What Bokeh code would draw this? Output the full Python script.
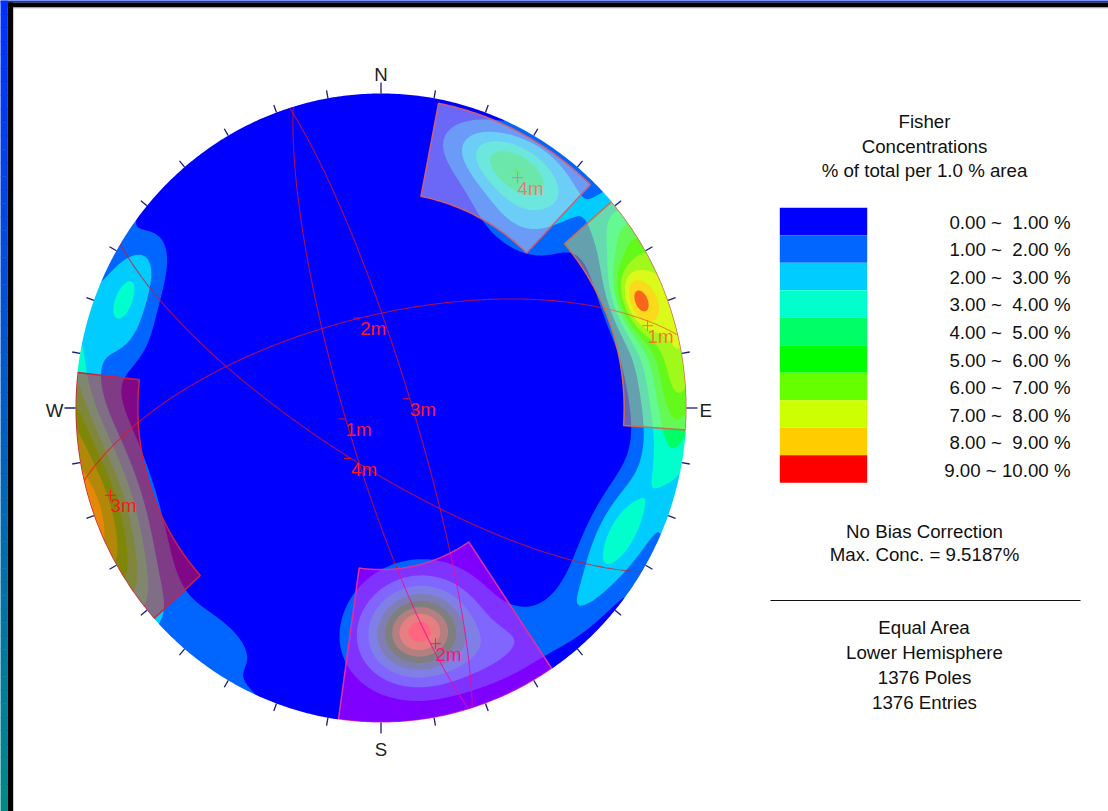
import numpy as np
from bokeh.plotting import figure
from bokeh.models import Range1d
from bokeh.core.properties import value
from bokeh.embed import file_html
from bokeh.resources import INLINE

# ---------------- data ----------------
level_edges = [0, 1, 2, 3, 4, 5, 6, 7, 8, 9, 10]
level_colors = ["#0000FF", "#0066FF", "#00CCFF", "#00FFCC", "#00FF66",
                "#00FF00", "#66FF00", "#CCFF00", "#FFCC00", "#FF0000"]
level_labels = ["0.00 ~ \u00a01.00 %", "1.00 ~ \u00a02.00 %", "2.00 ~ \u00a03.00 %",
                "3.00 ~ \u00a04.00 %", "4.00 ~ \u00a05.00 %", "5.00 ~ \u00a06.00 %",
                "6.00 ~ \u00a07.00 %", "7.00 ~ \u00a08.00 %", "8.00 ~ \u00a09.00 %",
                "9.00 ~ 10.00 %"]

# pole concentration components: trend (deg), plunge (deg), peak (%),
# spread along strike (deg), spread along dip (deg)
comp_trend  = [72.0, 58.0, 88.0, 68.0, 101.0, 117.0, 135.0, 295.0, 285.0,
               30.0, 37.0, 170.0, 170.0, 152.0, 216.0]
comp_plunge = [-1.0, 3.0, 4.0, 11.0, 5.0, 13.0, 10.0, 10.0, 14.0,
               13.0, 26.0, 28.0, 29.0, 15.0, 9.0]
comp_peak   = [6.5, 2.0, 3.0, 5.0, 1.8, 3.3, 1.3, 2.8, 1.0,
               4.6, 1.6, 6.0, 2.5, 1.4, 1.3]
comp_sig_s  = [12.0, 8.0, 8.0, 5.0, 7.0, 9.0, 8.0, 8.0, 6.0,
               9.0, 9.0, 9.5, 5.0, 8.0, 9.0]
comp_sig_d  = [11.0, 8.0, 8.0, 4.5, 7.0, 7.0, 7.0, 7.0, 8.0,
               7.0, 8.0, 11.0, 6.0, 8.0, 8.0]

# joint sets: mean pole trend / plunge
set_names        = ["1m", "2m", "3m", "4m"]
set_pole_trend   = [73.3, 166.6, 252.6, 31.4]
set_pole_plunge  = [9.8, 24.0, 8.0, 15.3]

# set windows (pole trend / plunge limits)
win_trend_min  = [49.0, 146.0, 228.0, 11.0]
win_trend_max  = [94.0, 188.0, 276.5, 44.0]
win_plunge_min = [0.0, 0.0, 0.0, 1.5]
win_plunge_max = [21.5, 47.4, 21.5, 32.0]
win_fill  = ["#F0F040", "#FF00FF", "#FF1010", "#D8D0F0"]
win_alpha = [0.42, 0.5, 0.5, 0.5]
win_line  = ["#C87050", "#E030A0", "#D02040", "#D06070"]

title_lines = ["Fisher", "Concentrations", "% of total per 1.0 % area"]
note_lines = ["No Bias Correction", "Max. Conc. = 9.5187%"]
info_lines = ["Equal Area", "Lower Hemisphere", "1376 Poles", "1376 Entries"]

# ---------------- layout (pixels) ----------------
W, H = 1108, 811
CX, CY, RX, RY = 380.5, 407.5, 305.5, 314.5
FONT = value("Liberation Sans")
FS = value("18.7px")
BASE = -6.5   # alphabetic baseline correction


def sx(px):
    return (px - CX) / RX


def sy(py):
    return (CY - py) / RY


def proj(trend, plunge):
    t = np.radians(np.asarray(trend, float))
    p = np.radians(np.asarray(plunge, float))
    r = np.sqrt(2.0) * np.sin((np.pi / 2 - p) / 2)
    return r * np.sin(t), r * np.cos(t)


def unit(trend, plunge):
    t, p = np.radians(trend), np.radians(plunge)
    return np.array([np.cos(p) * np.cos(t), np.cos(p) * np.sin(t), np.sin(p)])


p = figure(width=W, height=H, output_backend="svg", toolbar_location=None,
           x_range=Range1d(sx(0), sx(W)), y_range=Range1d(sy(H), sy(0)),
           min_border=0, x_axis_type=None, y_axis_type=None)
p.grid.visible = False
p.outline_line_color = None
p.background_fill_color = "white"
p.border_fill_color = "white"

# ---------------- density grid ----------------
n = 280
g = np.linspace(-1.05, 1.05, n)
U, V = np.meshgrid(g, g)
R = np.hypot(U, V)
s = np.where(R > 1, 1 / np.maximum(R, 1e-9), 1.0)
Uc, Vc = U * s, V * s
D = 1 - (Uc ** 2 + Vc ** 2)
k = np.sqrt(1 + D)
X = np.stack([Vc * k, Uc * k, D], axis=-1)

Z = np.zeros_like(U)
for t0, p0, a0, ss, sd in zip(comp_trend, comp_plunge, comp_peak, comp_sig_s, comp_sig_d):
    tr, pr = np.radians(t0), np.radians(p0)
    m = unit(t0, p0)
    e1 = np.array([-np.sin(tr), np.cos(tr), 0.0])
    e2 = np.array([-np.sin(pr) * np.cos(tr), -np.sin(pr) * np.sin(tr), np.cos(pr)])
    a1 = (X @ e1) / np.sin(np.radians(ss))
    a2 = (X @ e2) / np.sin(np.radians(sd))
    Z += a0 * np.exp(-(a1 ** 2 + a2 ** 2) / 2) * (np.abs(X @ m) > 0.2)
Z = np.clip(Z, 0, 9.99)

for lo, col in zip(level_edges[:-1], level_colors):
    p.contour(x=g, y=g, z=Z, levels=[lo, 100.0], fill_color=[col], line_color=None)

# ---------------- great circles of the set planes ----------------
for name, tp, pp in zip(set_names, set_pole_trend, set_pole_plunge):
    strike = np.radians(tp + 90)
    a = np.array([np.cos(strike), np.sin(strike), 0.0])
    b = unit(tp + 180, 90 - pp)
    phi = np.linspace(0, np.pi, 240)
    vec = np.outer(np.cos(phi), a) + np.outer(np.sin(phi), b)
    kk = np.sqrt(1 + vec[:, 2])
    p.line(vec[:, 1] / kk, vec[:, 0] / kk, line_color="#E0102A", line_alpha=0.75, line_width=1.1)
    du, dv = proj(tp + 180, 90 - pp)
    p.segment(x0=[du], y0=[dv], x1=[du - 7 / RX], y1=[dv], line_color="#E0102A", line_width=1)
    p.text(x=[du], y=[dv], text=[name], text_font=FONT, text_font_size=FS,
           text_color="#FF1A1A", text_align="left", text_baseline="top")

# pole markers
pu, pv = proj(set_pole_trend, set_pole_plunge)
p.scatter(pu, pv, marker="cross", size=11, line_color="#FF1A1A", line_width=1)
p.text(x=pu, y=pv, text=set_names, text_font=FONT, text_font_size=FS,
       text_color="#FF1A1A", text_align="left", text_baseline="top")

# ---------------- set windows ----------------
for i in range(len(set_names)):
    tt = np.linspace(win_trend_min[i], win_trend_max[i], 60)
    ou, ov = proj(tt, np.full_like(tt, win_plunge_min[i]))
    iu, iv = proj(tt[::-1], np.full_like(tt, win_plunge_max[i]))
    p.patch(np.concatenate([ou, iu]), np.concatenate([ov, iv]),
            fill_color=win_fill[i], fill_alpha=win_alpha[i],
            line_color=win_line[i], line_width=1.5)

# ---------------- white mask outside the primitive ----------------
ang = np.linspace(0, 2 * np.pi, 721)
p.multi_polygons(xs=[[[[-1.2, 1.2, 1.2, -1.2], list(np.sin(ang))]]],
                 ys=[[[[-1.2, -1.2, 1.2, 1.2], list(np.cos(ang))]]],
                 fill_color="white", line_color=None)

# ---------------- primitive ticks & compass labels ----------------
tick_az = np.arange(0, 360, 10)
tl = np.where(tick_az % 90 == 0, 11.0, 8.0)
ta = np.radians(tick_az)
p.segment(x0=np.sin(ta), y0=np.cos(ta),
          x1=np.sin(ta) * (1 + tl / RX), y1=np.cos(ta) * (1 + tl / RY),
          line_color="#1C1C7A", line_width=1.3)
p.text(x=[0, 0], y=[sy(80 + BASE), sy(755 + BASE)], text=["N", "S"], text_font=FONT,
       text_font_size=FS, text_color="#222222", text_align="center",
       text_baseline="alphabetic")
p.text(x=[sx(699)], y=[sy(410)], text=["E"], text_font=FONT, text_font_size=FS,
       text_color="#222222", text_align="left", text_baseline="middle")
p.text(x=[sx(63)], y=[sy(410)], text=["W"], text_font=FONT, text_font_size=FS,
       text_color="#222222", text_align="right", text_baseline="middle")

# ---------------- legend ----------------
LX = 924
p.text(x=[sx(LX)] * 3, y=sy(np.array([127, 152, 176]) + BASE), text=title_lines,
       text_font=FONT, text_font_size=FS, text_color="#111111", text_align="center",
       text_baseline="alphabetic")
nb = len(level_colors)
top = np.array([207.3 + 27.5 * i for i in range(nb)])
p.quad(left=sx(779.3), right=sx(866.7), top=sy(top), bottom=sy(top + 27.5),
       fill_color=level_colors, line_color=None)
p.text(x=[sx(1070)] * nb, y=sy(np.array([228 + 27.6 * i for i in range(nb)]) + BASE),
       text=level_labels, text_font=FONT, text_font_size=FS,
       text_color="#111111", text_align="right", text_baseline="alphabetic")
p.text(x=[sx(LX)] * 2, y=sy(np.array([537, 560]) + BASE), text=note_lines, text_font=FONT,
       text_font_size=FS, text_color="#111111", text_align="center",
       text_baseline="alphabetic")
p.segment(x0=[sx(770)], y0=[sy(600)], x1=[sx(1080)], y1=[sy(600)],
          line_color="#111111", line_width=1)
p.text(x=[sx(LX)] * 4, y=sy(np.array([633, 658, 683, 708]) + BASE), text=info_lines,
       text_font=FONT, text_font_size=FS, text_color="#111111",
       text_align="center", text_baseline="alphabetic")

# ---------------- window frame (top and left edges) ----------------
ns = 60
ys = np.linspace(0, H, ns + 1)
c0, c1 = np.array([0, 48, 255]), np.array([0, 136, 136])
cols = ["#%02x%02x%02x" % tuple(np.round(c0 + (c1 - c0) * f).astype(int))
        for f in np.linspace(0, 1, ns)]
p.quad(left=sx(-5), right=sx(7.3), top=sy(ys[:-1]), bottom=sy(ys[1:] + 0.5),
       fill_color=cols, line_color=None)
p.quad(left=[sx(-5)], right=[sx(W + 20)], top=[sy(-5)], bottom=[sy(2)], fill_color="#0030FF", line_color=None)
p.quad(left=[sx(7.3)], right=[sx(W + 20)], top=[sy(2)], bottom=[sy(6.7)], fill_color="#000000", line_color=None)
p.quad(left=[sx(7.3)], right=[sx(12.7)], top=[sy(2)], bottom=[sy(H + 20)], fill_color="#000000", line_color=None)
p.quad(left=[sx(12.7)], right=[sx(W + 20)], top=[sy(6.7)], bottom=[sy(7.7)], fill_color="#9A9A9A", line_color=None)

html = file_html(p, INLINE)
css = ("<style>html,body{margin:0;padding:0;overflow:hidden;}"
       "::-webkit-scrollbar{display:none;width:0;height:0;}</style>")
html = html.replace("</head>", css + "</head>", 1)
open("out.html", "w").write(html)
